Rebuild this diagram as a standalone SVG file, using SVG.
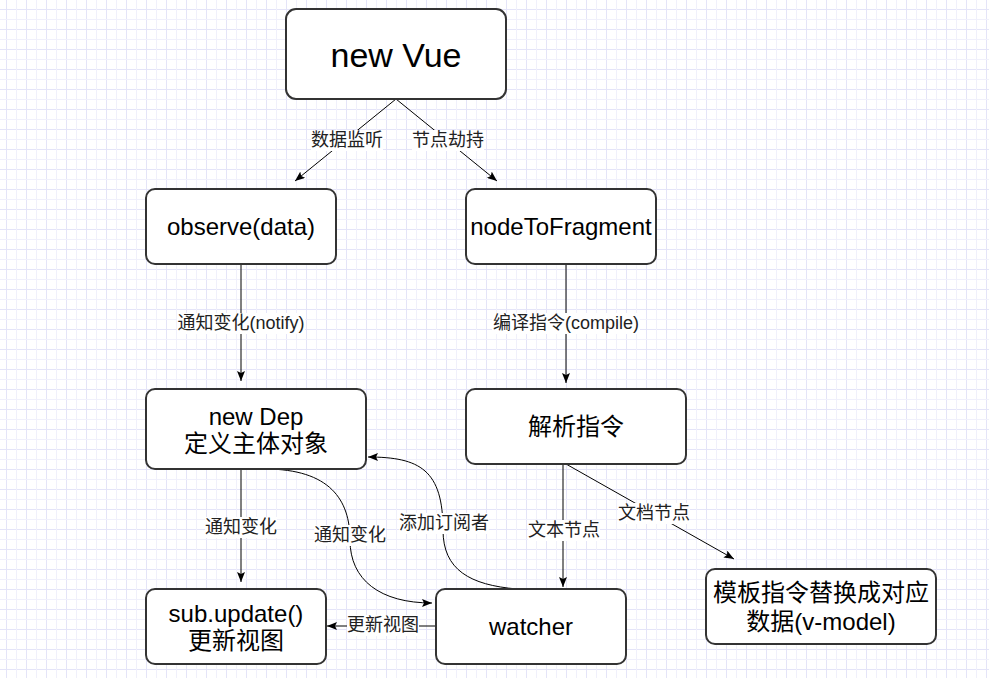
<svg xmlns="http://www.w3.org/2000/svg" width="989" height="678" viewBox="0 0 989 678">
<defs>
<pattern id="grid" patternUnits="userSpaceOnUse" x="6" y="9" width="20" height="20">
<rect width="20" height="20" fill="#ffffff"/>
<path d="M0.5,0 V20 M0,0.5 H20" stroke="#e4e4f8" stroke-width="1" fill="none"/>
<path d="M10.5,0 V20 M0,10.5 H20" stroke="#f0f0fb" stroke-width="1" fill="none"/>
</pattern>
<marker id="arr" viewBox="0 0 10 8" refX="10" refY="4" markerWidth="10" markerHeight="8" markerUnits="userSpaceOnUse" orient="auto">
<path d="M0,0 L10,4 L0,8 L2,4 Z" fill="#000"/>
</marker>
<style>
.node rect { fill:#ffffff; stroke:#333333; stroke-width:2; }
.node text { font-family:"Liberation Sans","Noto Sans CJK SC",sans-serif; font-size:24px; fill:#000; text-anchor:middle; dominant-baseline:central; }
.edge { fill:none; stroke:#000; stroke-width:1; marker-end:url(#arr); }
.lbg { fill:#ffffff; }
.lbl { font-family:"Liberation Sans","Noto Sans CJK SC",sans-serif; font-size:18px; fill:#222; text-anchor:middle; dominant-baseline:central; }
</style>
</defs>
<rect width="989" height="678" fill="url(#grid)"/>

<g id="connectors">
<path class="edge" d="M396,99 L295,181"/>
<path class="edge" d="M396,99 L497,181"/>
<path class="edge" d="M241,264 L241,381"/>
<path class="edge" d="M566,264 L566,383"/>
<path class="edge" d="M241,469 L241,582"/>
<path class="edge" d="M265,469 C330,469 350,500 350,540 C350,580 380,603 432,603"/>
<path class="edge" d="M517,589 C470,585 443,570 443,530 C443,470 420,457 368,457"/>
<path class="edge" d="M436,626 L327,626"/>
<path class="edge" d="M563,464 L563,587"/>
<path class="edge" d="M566,464 L734,559"/>

<rect class="lbg" x="311" y="130" width="72" height="21"/>
<text class="lbl" x="347" y="140">数据监听</text>
<rect class="lbg" x="412" y="130" width="72" height="21"/>
<text class="lbl" x="448" y="140">节点劫持</text>
<rect class="lbg" x="177" y="313" width="128" height="21"/>
<text class="lbl" x="241" y="323">通知变化(notify)</text>
<rect class="lbg" x="492" y="313" width="148" height="21"/>
<text class="lbl" x="566" y="323">编译指令(compile)</text>
<rect class="lbg" x="205" y="517" width="72" height="21"/>
<text class="lbl" x="241" y="527">通知变化</text>
<rect class="lbg" x="314" y="525" width="72" height="21"/>
<text class="lbl" x="350" y="535">通知变化</text>
<rect class="lbg" x="399" y="513" width="90" height="21"/>
<text class="lbl" x="444" y="523">添加订阅者</text>
<rect class="lbg" x="347" y="615" width="72" height="21"/>
<text class="lbl" x="383" y="625">更新视图</text>
<rect class="lbg" x="528" y="520" width="72" height="21"/>
<text class="lbl" x="564" y="530">文本节点</text>
<rect class="lbg" x="618" y="503" width="72" height="21"/>
<text class="lbl" x="654" y="513">文档节点</text>
</g>

<g id="new-vue" class="node">
<rect x="286" y="9" width="220" height="90" rx="10"/>
<text x="396" y="55" style="font-size:34px">new Vue</text>
</g>
<g id="observe" class="node">
<rect x="146" y="189" width="190" height="75" rx="9"/>
<text x="241" y="226.5">observe(data)</text>
</g>
<g id="node-to-fragment" class="node">
<rect x="466" y="189" width="190" height="75" rx="9"/>
<text x="561" y="226.5">nodeToFragment</text>
</g>
<g id="new-dep" class="node">
<rect x="146" y="389" width="220" height="80" rx="9"/>
<text x="256" y="416">new Dep</text>
<text x="256" y="443">定义主体对象</text>
</g>
<g id="parse-directive" class="node">
<rect x="466" y="389" width="220" height="75" rx="9"/>
<text x="576" y="426.5">解析指令</text>
</g>
<g id="sub-update" class="node">
<rect x="146" y="589" width="180" height="75" rx="9"/>
<text x="236" y="613">sub.update()</text>
<text x="236" y="640">更新视图</text>
</g>
<g id="watcher" class="node">
<rect x="436" y="589" width="190" height="75" rx="9"/>
<text x="531" y="626.5">watcher</text>
</g>
<g id="template-replace" class="node">
<rect x="706" y="569" width="230" height="75" rx="9"/>
<text x="821" y="592.5">模板指令替换成对应</text>
<text x="821" y="621">数据(v-model)</text>
</g>
</svg>
